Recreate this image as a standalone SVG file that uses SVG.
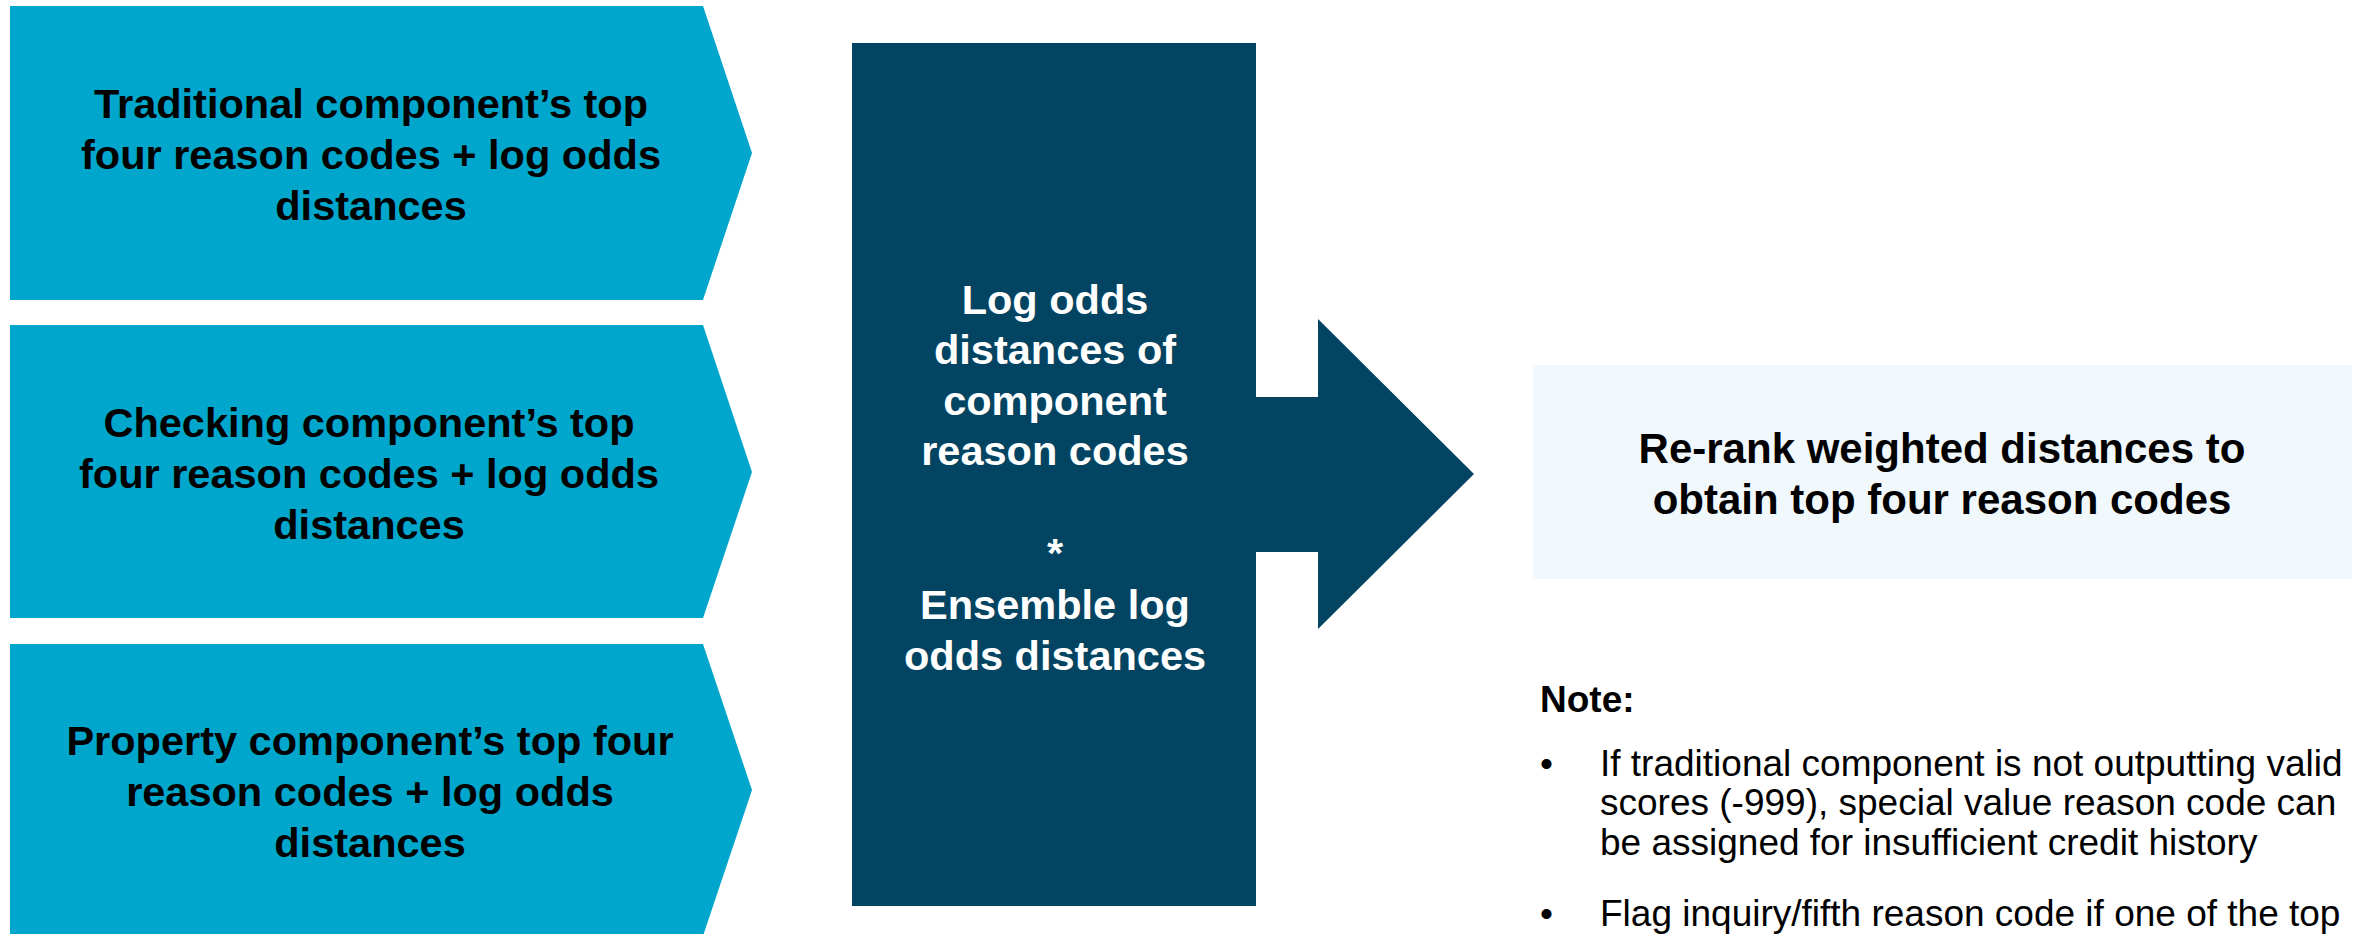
<svg xmlns="http://www.w3.org/2000/svg" width="2359" height="934" viewBox="0 0 2359 934">
  <style>
    .chev { fill: #00A6CB; }
    .dark { fill: #024462; }
    .light { fill: #F0F8FC; }
    .t { font-family: "Liberation Sans", Arial, sans-serif; font-weight: bold; font-size: 41.5px; text-anchor: middle; fill: #000000; }
    .w { font-family: "Liberation Sans", Arial, sans-serif; font-weight: bold; font-size: 41.5px; text-anchor: middle; fill: #FFFFFF; }
    .r { font-family: "Liberation Sans", Arial, sans-serif; font-weight: bold; font-size: 42px; text-anchor: middle; fill: #000000; }
    .nh { font-family: "Liberation Sans", Arial, sans-serif; font-weight: bold; font-size: 37px; fill: #000000; }
    .nb { font-family: "Liberation Sans", Arial, sans-serif; font-size: 37px; fill: #000000; }
  </style>
  <rect width="2359" height="934" fill="#FFFFFF"/>

  <g id="traditional">
    <polygon class="chev" points="10,6 703,6 752,153 703,300 10,300"/>
    <text class="t" x="371" y="118">Traditional component’s top</text>
    <text class="t" x="371" y="169">four reason codes + log odds</text>
    <text class="t" x="371" y="220">distances</text>
  </g>

  <g id="checking">
    <polygon class="chev" points="10,325 703,325 752,472 703,618 10,618"/>
    <text class="t" x="369" y="437">Checking component’s top</text>
    <text class="t" x="369" y="488">four reason codes + log odds</text>
    <text class="t" x="369" y="539">distances</text>
  </g>

  <g id="property">
    <polygon class="chev" points="10,644 703,644 752,790 703,936 10,936"/>
    <text class="t" x="370" y="755">Property component’s top four</text>
    <text class="t" x="370" y="806">reason codes + log odds</text>
    <text class="t" x="370" y="857">distances</text>
  </g>

  <g id="weighting">
    <rect class="dark" x="852" y="43" width="404" height="863"/>
    <text class="w" x="1055" y="314">Log odds</text>
    <text class="w" x="1055" y="364">distances of</text>
    <text class="w" x="1055" y="415">component</text>
    <text class="w" x="1055" y="465">reason codes</text>
    <text class="w" x="1055" y="567">*</text>
    <text class="w" x="1055" y="619">Ensemble log</text>
    <text class="w" x="1055" y="670">odds distances</text>
  </g>

  <g id="connectors">
    <polygon class="dark" points="1255,397 1318,397 1318,319 1474,474 1318,629 1318,552 1255,552"/>
  </g>

  <g id="rerank">
    <rect class="light" x="1533" y="365" width="819" height="214"/>
    <text class="r" x="1942" y="463">Re-rank weighted distances to</text>
    <text class="r" x="1942" y="514">obtain top four reason codes</text>
  </g>

  <g id="note">
    <text class="nh" x="1540" y="712">Note:</text>
    <text class="nb" x="1540" y="776">•</text>
    <text class="nb" x="1600" y="776">If traditional component is not outputting valid</text>
    <text class="nb" x="1600" y="815">scores (-999), special value reason code can</text>
    <text class="nb" x="1600" y="855">be assigned for insufficient credit history</text>
    <text class="nb" x="1540" y="926">•</text>
    <text class="nb" x="1600" y="926">Flag inquiry/fifth reason code if one of the top</text>
  </g>
</svg>
